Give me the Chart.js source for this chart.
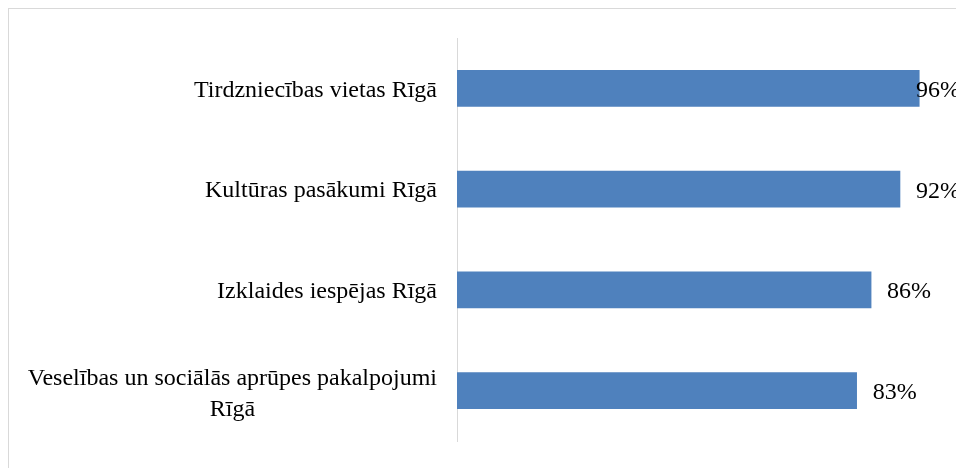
<!DOCTYPE html>
<html>
<head>
<meta charset="utf-8">
<script src="https://cdn.jsdelivr.net/npm/chart.js@4/dist/chart.umd.min.js"></script>
<style>
  html, body { margin: 0; padding: 0; background: #ffffff; width: 956px; height: 468px; overflow: hidden; }
  #frame { position: absolute; left: 8px; top: 8px; width: 1000px; height: 1000px; border: 1px solid #d9d9d9; box-sizing: border-box; }
  #wrap { position: absolute; left: 0; top: 0; width: 956px; height: 468px; }
</style>
</head>
<body>
<div id="frame"></div>
<div id="wrap"><canvas id="c" width="956" height="468"></canvas></div>
<script>
const categories = [
  ['Tirdzniecības vietas Rīgā'],
  ['Kultūras pasākumi Rīgā'],
  ['Izklaides iespējas Rīgā'],
  ['Veselības un sociālās aprūpes pakalpojumi', 'Rīgā']
];
const values = [96, 92, 86, 83];
const valueLabels = ['96%', '92%', '86%', '83%'];

const FONT = '24px "Liberation Serif", "Times New Roman", serif';

const labelPlugin = {
  id: 'customLabels',
  afterDraw(chart) {
    const ctx = chart.ctx;
    const yScale = chart.scales.y;
    ctx.save();
    ctx.font = FONT;
    ctx.fillStyle = '#000000';
    ctx.textBaseline = 'alphabetic';
    // category labels
    categories.forEach((lines, i) => {
      const cy = yScale.getPixelForTick(i);
      const maxW = Math.max(...lines.map(l => ctx.measureText(l).width));
      const n = lines.length;
      lines.forEach((line, j) => {
        const base = cy + 8.3 + (j - (n - 1) / 2) * 31 + (n > 1 ? 1.7 : 0);
        if (n > 1) {
          ctx.textAlign = 'center';
          ctx.fillText(line, 437 - maxW / 2, base);
        } else {
          ctx.textAlign = 'right';
          ctx.fillText(line, 437, base);
        }
      });
    });
    // value labels
    const meta = chart.getDatasetMeta(0);
    ctx.textAlign = 'left';
    meta.data.forEach((bar, i) => {
      const txt = valueLabels[i];
      const w = ctx.measureText(txt).width;
      let x = bar.x + 16;
      if (x + w > chart.width + 4) x = chart.width + 4 - w;
      ctx.fillText(txt, x, bar.y + 8.5);
    });
    ctx.restore();
  }
};

new Chart(document.getElementById('c'), {
  type: 'bar',
  data: {
    labels: categories.map(c => c.join(' ')),
    datasets: [{
      data: values,
      backgroundColor: '#4f81bd',
      borderWidth: 0,
      barThickness: 36
    }]
  },
  options: {
    indexAxis: 'y',
    responsive: false,
    animation: false,
    events: [],
    layout: { padding: { left: 449, top: 38, right: 17.5, bottom: 27 } },
    plugins: { legend: { display: false }, tooltip: { enabled: false } },
    scales: {
      x: { display: false, min: 0, max: 100 },
      y: {
        grid: { display: false },
        border: { display: true, color: '#d9d9d9', width: 1 },
        ticks: { display: false }
      }
    }
  },
  plugins: [labelPlugin]
});
</script>
</body>
</html>
